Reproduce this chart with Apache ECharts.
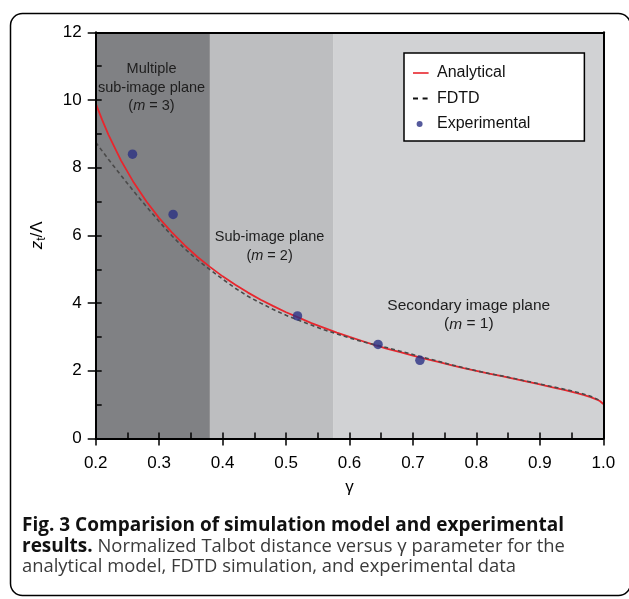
<!DOCTYPE html>
<html><head><meta charset="utf-8">
<script src="https://cdn.jsdelivr.net/npm/echarts@6/dist/echarts.min.js"></script>
<style>html,body{margin:0;padding:0;background:#fff}#c{width:629px;height:599px}</style>
</head><body><div id="c"></div>
<script>
// ---- data ----
const analyticalGamma = [0.20,0.21,0.22,0.24,0.26,0.28,0.30,0.32,0.34,0.36,0.38,0.40,0.42,0.44,0.46,0.48,0.50,0.52,0.54,0.56,0.58,0.60,0.62,0.64,0.66,0.68,0.70,0.72,0.74,0.76,0.78,0.80,0.82,0.84,0.86,0.88,0.90,0.92,0.94,0.96,0.97,0.98,0.99,0.995,1.00];
const analyticalValue = [9.90,9.42,8.98,8.21,7.56,7.00,6.51,6.09,5.71,5.37,5.07,4.79,4.54,4.31,4.10,3.91,3.73,3.57,3.41,3.27,3.13,3.00,2.88,2.76,2.65,2.55,2.45,2.35,2.26,2.17,2.08,2.00,1.92,1.84,1.76,1.68,1.60,1.51,1.43,1.33,1.28,1.22,1.15,1.10,1.02];
const fdtdGamma = [0.20,0.22,0.24,0.26,0.28,0.30,0.32,0.34,0.36,0.38,0.40,0.42,0.44,0.46,0.48,0.50,0.52,0.54,0.56,0.58,0.60,0.62,0.64,0.66,0.68,0.70,0.72,0.74,0.76,0.78,0.80,0.82,0.84,0.86,0.88,0.90,0.92,0.94,0.96,0.98,0.995];
const fdtdValue = [8.75,8.25,7.77,7.30,6.85,6.41,5.99,5.61,5.28,4.99,4.71,4.44,4.20,4.00,3.81,3.64,3.49,3.35,3.21,3.09,2.97,2.86,2.77,2.68,2.58,2.48,2.38,2.28,2.18,2.09,2.00,1.92,1.85,1.77,1.69,1.61,1.53,1.45,1.36,1.25,1.12];
const expGamma = [0.258,0.322,0.518,0.645,0.711];
const expValue = [8.40,6.62,3.62,2.78,2.31];
const regionEdges = [0.2,0.38,0.575,1.0];
const regionNames = [['Multiple','sub-image plane','({i|m} = 3)'],['Sub-image plane','({i|m} = 2)'],['Secondary image plane','({i|m} = 1)']];
const regionLabelAt = [[0.288,10.36],[0.474,5.67],[0.788,3.65]];
const seriesNames = ['Analytical','FDTD','Experimental'];
const xRange = [0.2,1.0], xStep = 0.1;
const yRange = [0,12], yStep = 2;
const captionLines = [
  '{b|Fig. 3 Comparision of simulation model and experimental}',
  '{b|results.} Normalized Talbot distance versus γ parameter for the',
  'analytical model, FDTD simulation, and experimental data'
];

const zip = (a,b) => a.map((v,i)=>[v,b[i]]);
const FONT = '"Liberation Sans", Arial, Helvetica, sans-serif';
const CAP = '"Open Sans", "Noto Sans", sans-serif';
const regionColors = ['#808184','#bdbec0','#d1d2d4'];

const chart = echarts.init(document.getElementById('c'), null, {renderer:'canvas'});

const baseX = {type:'value', min:xRange[0], max:xRange[1], interval:xStep, gridIndex:0, splitLine:{show:false}};
const baseY = {type:'value', min:yRange[0], max:yRange[1], interval:yStep, gridIndex:0, splitLine:{show:false}};

const option = {
  animation:false,
  grid:{left:95.7, top:32.3, width:507.6, height:406.2, show:false},
  legend:{
    left:404, top:53, orient:'vertical', selectedMode:false,
    backgroundColor:'#fff', borderColor:'#000', borderWidth:1.5, borderRadius:0,
    padding:[12,54,9,9], itemWidth:19, itemHeight:10, itemGap:9.5,
    textStyle:{fontSize:16, color:'#111', fontFamily:FONT},
    data:[
      {name:seriesNames[0], icon:'path://M0,0M19,10M0,4.2L15.6,4.2L15.6,5.8L0,5.8Z'},
      {name:seriesNames[1], icon:'path://M0,0M19,10M0,4L5,4L5,6L0,6ZM9.6,4L14.6,4L14.6,6L9.6,6Z'},
      {name:seriesNames[2], icon:'path://M0,0M19,10M3.6,5A3,3,0,1,1,9.6,5A3,3,0,1,1,3.6,5Z'}
    ]
  },
  xAxis:[
    Object.assign({}, baseX, {position:'bottom', z:10,
      axisLine:{show:true, onZero:false, lineStyle:{color:'#000', width:2}},
      axisTick:{show:true, inside:false, length:7, lineStyle:{color:'#000', width:1.5}},
      axisLabel:{fontSize:17, color:'#000', margin:16, fontFamily:FONT, formatter:v=>v.toFixed(1)},
      name:'γ', nameLocation:'middle', nameGap:40, nameTextStyle:{fontSize:17, color:'#000', fontFamily:FONT}}),
    Object.assign({}, baseX, {position:'bottom', z:10,
      axisLine:{show:false, onZero:false},
      axisTick:{show:true, inside:true, length:6, lineStyle:{color:'#000', width:1.5}},
      minorTick:{show:true, splitNumber:2, length:6, lineStyle:{color:'#000', width:1.5}},
      axisLabel:{show:false}}),
    Object.assign({}, baseX, {position:'top', z:10,
      axisLine:{show:true, onZero:false, lineStyle:{color:'#000', width:2}},
      axisTick:{show:false}, axisLabel:{show:false}})
  ],
  yAxis:[
    Object.assign({}, baseY, {position:'left', z:10,
      axisLine:{show:true, onZero:false, lineStyle:{color:'#000', width:2}},
      axisTick:{show:true, inside:false, length:8, lineStyle:{color:'#000', width:1.5}},
      axisLabel:{fontSize:17, color:'#000', margin:14, fontFamily:FONT},
      name:'{i|z}{s|t}{n|/Λ}', nameLocation:'middle', nameRotate:90, nameGap:48,
      nameTextStyle:{fontSize:17, color:'#000', fontFamily:FONT,
        rich:{i:{fontSize:17, fontStyle:'italic', fontFamily:FONT, lineHeight:20, verticalAlign:'middle'},
              s:{fontSize:12, fontFamily:FONT, lineHeight:20, verticalAlign:'bottom'},
              n:{fontSize:17, fontFamily:FONT, lineHeight:20, verticalAlign:'middle'}}}}),
    Object.assign({}, baseY, {position:'left', z:10,
      axisLine:{show:false, onZero:false},
      axisTick:{show:true, inside:true, length:6, lineStyle:{color:'#000', width:1.5}},
      minorTick:{show:true, splitNumber:2, length:6, lineStyle:{color:'#000', width:1.5}},
      axisLabel:{show:false}}),
    Object.assign({}, baseY, {position:'right', z:10,
      axisLine:{show:true, onZero:false, lineStyle:{color:'#000', width:2}},
      axisTick:{show:false}, axisLabel:{show:false}})
  ],
  series:[
    {name:'regions', type:'line', data:[], xAxisIndex:0, yAxisIndex:0, silent:true, z:1,
      markArea:{silent:true, z:1,
        data:regionEdges.slice(0,-1).map((e,i)=>[
          {xAxis:e, yAxis:yRange[0], itemStyle:{color:regionColors[i]}},
          {xAxis:regionEdges[i+1], yAxis:yRange[1]}])},
      markPoint:{silent:true, symbol:'circle', symbolSize:0,
        data:regionNames.map((lines,i)=>({coord:regionLabelAt[i],
          label:{show:true, position:'inside', formatter:lines.join('\n'),
            fontSize: i===2 ? 15.5 : 14.5, lineHeight:18.5, color:'#1e1e1e', fontFamily:FONT, align:'center',
            rich:{i:{fontStyle:'italic', fontSize: i===2 ? 15.5 : 14.5, fontFamily:FONT, color:'#1e1e1e', lineHeight:18.5}}}}))}
    },
    {name:seriesNames[0], type:'line', data:zip(analyticalGamma, analyticalValue), symbol:'none', z:3,
      color:'#e8262d', lineStyle:{color:'#e8262d', width:1.8}},
    {name:seriesNames[1], type:'line', data:zip(fdtdGamma, fdtdValue), symbol:'none', z:4,
      color:'#111', itemStyle:{color:'#111'}, lineStyle:{color:'#4a4a4a', width:1.6, type:[4,3]}},
    {name:seriesNames[2], type:'scatter', data:zip(expGamma, expValue), symbol:'circle', symbolSize:9.5, z:5,
      color:'#2a3183', itemStyle:{color:'#2a3183'}}
  ],
  graphic:[
    {type:'rect', silent:true, z:0, shape:{x:10.5, y:13.5, width:620, height:582, r:12},
      style:{fill:'none', stroke:'#000', lineWidth:1.5}},
    ...captionLines.map((t,i)=>({type:'text', silent:true, left:22, top:516 + i*21,
      style:{text:t, fontSize:18.4, fontFamily:CAP, fill:'#3a3a3a',
        rich:{b:{fontWeight:'bold', fontSize:19, fontFamily:CAP, fill:'#111'}}}}))
  ]
};
chart.setOption(option);
</script></body></html>
